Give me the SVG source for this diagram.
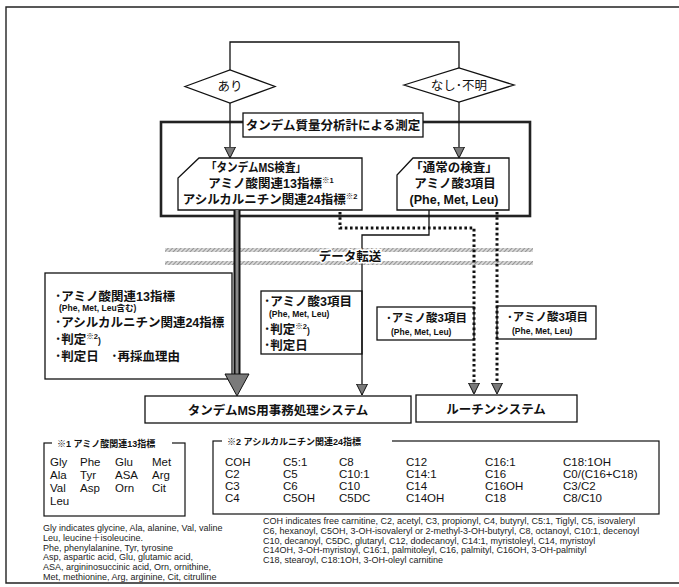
<svg xmlns="http://www.w3.org/2000/svg" width="679" height="587" viewBox="0 0 679 587">
<defs>
<style>
text{font-family:"Liberation Sans","Noto Sans CJK JP",sans-serif;fill:#111}
.b{font-weight:bold}
.jp{font-size:12.5px;font-weight:bold}
.jps{font-size:11.5px;font-weight:bold}
.sm{font-size:8.5px;font-weight:bold}
.sup{font-size:7.5px;font-weight:bold}
.grid{font-size:11.5px}
.fn{font-size:9px;fill:#222}
.box{fill:#fff;stroke:#111;stroke-width:1.3}
.frame{fill:none;stroke:#222;stroke-width:2.6}
.ln{fill:none;stroke:#111;stroke-width:1.3}
.dot{fill:none;stroke:#111;stroke-width:3;stroke-dasharray:2.6 2.6}
.ah{fill:#7a7a7a;stroke:#111;stroke-width:1}
</style>
<pattern id="hatch" width="3" height="3" patternUnits="userSpaceOnUse" patternTransform="rotate(45)">
<rect width="3" height="3" fill="#d8d8d8"/>
<line x1="0" y1="0" x2="0" y2="3" stroke="#666" stroke-width="1.2"/>
</pattern>
<marker id="arr" markerWidth="12" markerHeight="12" viewBox="0 0 12 12" refX="11" refY="6" orient="auto" markerUnits="userSpaceOnUse">
<path d="M0,0.5 L11,6 L0,11.5 Z" class="ah"/>
</marker>
</defs>
<rect width="679" height="587" fill="#fff"/>
<path d="M681,7 H6 V583 H681" fill="none" stroke="#222" stroke-width="1.4"/>

<g id="band">
<rect x="165" y="248" width="368" height="4" fill="url(#hatch)"/>
<rect x="165" y="261" width="368" height="4" fill="url(#hatch)"/>
</g>

<g id="measure">
<rect x="161" y="122" width="369" height="94" class="frame"/>
</g>

<g id="n-ari">
<polygon points="185,86.5 230,70 275,86.5 230,103" class="box"/>
<text x="230" y="91" text-anchor="middle" font-size="12.5">あり</text>
</g>
<g id="n-nashi">
<polygon points="404,85 459,68 514,85 459,102" class="box"/>
<text x="459" y="89.5" text-anchor="middle" font-size="12.5">なし･不明</text>
</g>

<g id="n-label">
<rect x="243" y="113" width="180" height="24" class="box"/>
<text x="333" y="129.5" text-anchor="middle" class="jp" font-size="12">タンデム質量分析計による測定</text>
</g>

<g id="n-tandem">
<path d="M199,158 H362 V210 H178 V178 Z" class="box"/>
<text x="256" y="172" text-anchor="middle" class="jp" textLength="100" lengthAdjust="spacingAndGlyphs">「タンデムMS検査」</text>
<text x="271" y="188" text-anchor="middle" class="jp">アミノ酸関連13指標<tspan class="sup" dy="-5">※1</tspan></text>
<text x="270" y="204" text-anchor="middle" class="jp">アシルカルニチン関連24指標<tspan class="sup" dy="-5">※2</tspan></text>
</g>
<g id="n-normal">
<path d="M413,158 H509 V210 H397 V175 Z" class="box"/>
<text x="454" y="172" text-anchor="middle" class="jp">「通常の検査」</text>
<text x="455" y="188" text-anchor="middle" class="jp">アミノ酸3項目</text>
<text x="454" y="204" text-anchor="middle" class="jp">(Phe, Met, Leu)</text>
</g>

<g id="n-left">
<rect x="45" y="273" width="187" height="106" class="box"/>
<text x="55" y="301" class="jp">･アミノ酸関連13指標</text>
<text x="59" y="311" class="sm">(Phe, Met, Leu含む)</text>
<text x="55" y="327" class="jp">･アシルカルニチン関連24指標</text>
<text x="55" y="344" class="jp">･判定<tspan class="sup" dy="-5">※2</tspan><tspan class="sm" dy="5">)</tspan></text>
<text x="55" y="361" class="jp">･判定日　･再採血理由</text>
</g>

<g id="n-mid">
<rect x="261" y="291" width="101" height="63" class="box"/>
<text x="264" y="306" class="jp">･アミノ酸3項目</text>
<text x="269" y="317" class="sm">(Phe, Met, Leu)</text>
<text x="264" y="334" class="jp">･判定<tspan class="sup" dy="-5">※2</tspan><tspan class="sm" dy="5">)</tspan></text>
<text x="264" y="350" class="jp">･判定日</text>
</g>

<g id="n-dl">
<rect x="377" y="307" width="97" height="33" class="box"/>
<text x="386" y="322" class="jps">･アミノ酸3項目</text>
<text x="391" y="335" class="sm">(Phe, Met, Leu)</text>
</g>
<g id="n-dr">
<rect x="497" y="306" width="99" height="33" class="box"/>
<text x="507" y="321" class="jps">･アミノ酸3項目</text>
<text x="512" y="334" class="sm">(Phe, Met, Leu)</text>
</g>

<g id="n-tsys">
<rect x="145" y="396" width="266" height="27" class="box"/>
<text x="278" y="415" text-anchor="middle" class="jp" font-size="13">タンデムMS用事務処理システム</text>
</g>
<g id="n-rsys">
<rect x="416" y="395" width="161" height="27" class="box"/>
<text x="496" y="414" text-anchor="middle" class="jp" font-size="13">ルーチンシステム</text>
</g>

<g id="connectors">
<path d="M230,70 V42 H459 V68" class="ln"/>
<path d="M230,103 V158" class="ln" marker-end="url(#arr)"/>
<path d="M459,102 V158" class="ln" marker-end="url(#arr)"/>
<path d="M237,210 V376" fill="none" stroke="#111" stroke-width="7"/>
<path d="M237,210 V376" fill="none" stroke="#8a8a8a" stroke-width="3"/>
<polygon points="225,374 249,374 237,396" class="ah" stroke-width="1.5"/>
<path d="M429,210 V235 H362 V395" class="ln" marker-end="url(#arr)"/>
<path d="M340,212 V228 H474 V394" class="dot" marker-end="url(#arr)"/>
<path d="M497,212 V394" class="dot" marker-end="url(#arr)"/>
</g>

<g id="transfer-label">
<text x="350" y="261" text-anchor="middle" class="jp" font-size="12" stroke="#fff" stroke-width="3" paint-order="stroke">データ転送</text>
</g>

<g id="legend1">
<rect x="44" y="443" width="141" height="73" fill="none" stroke="#111" stroke-width="1.2"/>
<rect x="52" y="438" width="120" height="10" fill="#fff"/>
<text x="57" y="447" class="b" font-size="9">※1 アミノ酸関連13指標</text>
<g class="grid">
<text x="50" y="466">Gly</text><text x="80" y="466">Phe</text><text x="115" y="466">Glu</text><text x="152" y="466">Met</text>
<text x="50" y="479">Ala</text><text x="80" y="479">Tyr</text><text x="115" y="479">ASA</text><text x="152" y="479">Arg</text>
<text x="50" y="492">Val</text><text x="80" y="492">Asp</text><text x="115" y="492">Orn</text><text x="152" y="492">Cit</text>
<text x="50" y="505">Leu</text>
</g>
</g>

<g id="legend2">
<rect x="213" y="441" width="446" height="73" fill="none" stroke="#111" stroke-width="1.2"/>
<rect x="222" y="436" width="170" height="10" fill="#fff"/>
<text x="227" y="445" class="b" font-size="9">※2 アシルカルニチン関連24指標</text>
<g class="grid">
<text x="225" y="466">COH</text><text x="283" y="466">C5:1</text><text x="339" y="466">C8</text><text x="406" y="466">C12</text><text x="485" y="466">C16:1</text><text x="563" y="466">C18:1OH</text>
<text x="225" y="478">C2</text><text x="283" y="478">C5</text><text x="339" y="478">C10:1</text><text x="406" y="478">C14:1</text><text x="485" y="478">C16</text><text x="563" y="478">C0/(C16+C18)</text>
<text x="225" y="490">C3</text><text x="283" y="490">C6</text><text x="339" y="490">C10</text><text x="406" y="490">C14</text><text x="485" y="490">C16OH</text><text x="563" y="490">C3/C2</text>
<text x="225" y="502">C4</text><text x="283" y="502">C5OH</text><text x="339" y="502">C5DC</text><text x="406" y="502">C14OH</text><text x="485" y="502">C18</text><text x="563" y="502">C8/C10</text>
</g>
</g>

<g id="notes1">
<text x="43" y="531" class="fn">Gly indicates glycine, Ala, alanine, Val, valine</text>
<text x="43" y="541" class="fn">Leu, leucine＋isoleucine.</text>
<text x="43" y="551" class="fn">Phe, phenylalanine, Tyr, tyrosine</text>
<text x="43" y="560" class="fn">Asp, aspartic acid, Glu, glutamic acid,</text>
<text x="43" y="570" class="fn">ASA, argininosuccinic acid, Orn, ornithine,</text>
<text x="43" y="580" class="fn">Met, methionine, Arg, arginine, Cit, citrulline</text>
</g>
<g id="notes2">
<text x="263" y="524" class="fn">COH indicates free carnitine, C2, acetyl, C3, propionyl, C4, butyryl, C5:1, Tiglyl, C5, isovaleryl</text>
<text x="263" y="534" class="fn">C6, hexanoyl, C5OH, 3-OH-isovaleryl or 2-methyl-3-OH-butyryl, C8, octanoyl, C10:1, decenoyl</text>
<text x="263" y="544" class="fn">C10, decanoyl, C5DC, glutaryl, C12, dodecanoyl, C14:1, myristoleyl, C14, myristoyl</text>
<text x="263" y="553" class="fn">C14OH, 3-OH-myristoyl, C16:1, palmitoleyl, C16, palmityl, C16OH, 3-OH-palmityl</text>
<text x="263" y="563" class="fn">C18, stearoyl, C18:1OH, 3-OH-oleyl carnitine</text>
</g>
</svg>
